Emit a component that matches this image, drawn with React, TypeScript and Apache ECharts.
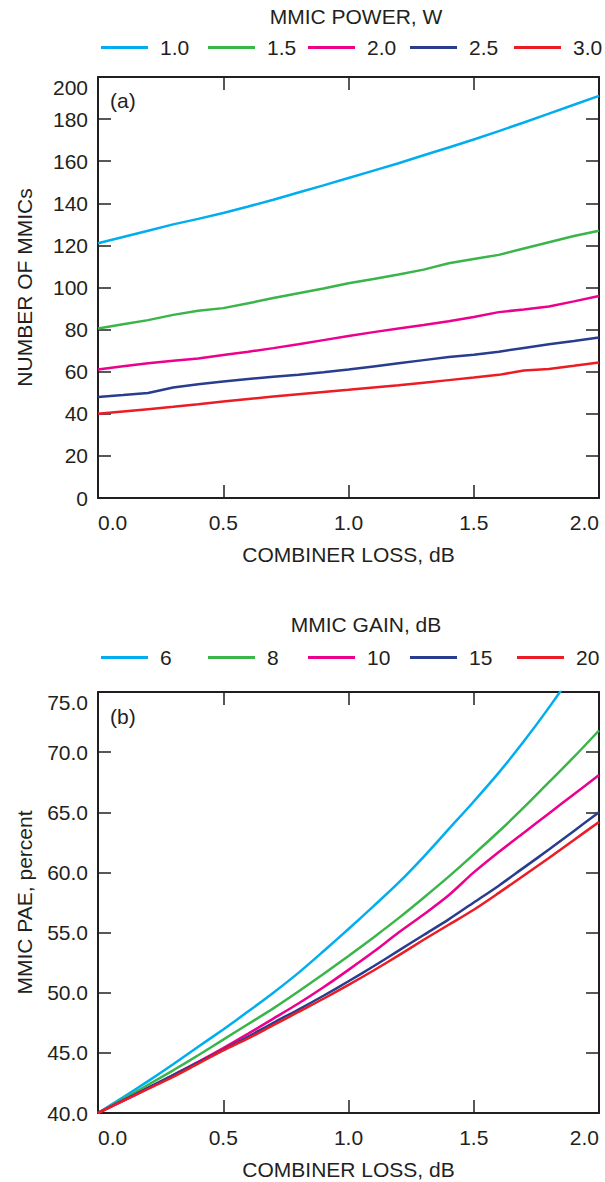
import React, { useEffect, useRef } from "react";
import * as echarts from "echarts";

// ---------- data ----------
const lossX = [0, 0.1, 0.2, 0.3, 0.4, 0.5, 0.6, 0.7, 0.8, 0.9, 1.0, 1.1, 1.2, 1.3, 1.4, 1.5, 1.6, 1.7, 1.8, 1.9, 2.0];

const powerNames = ["1.0", "1.5", "2.0", "2.5", "3.0"];
const count1W = [121, 124, 127, 130, 132.6, 135.4, 138.5, 141.7, 145.1, 148.5, 152, 155.5, 159, 162.8, 166.5, 170.3, 174.3, 178.4, 182.6, 186.8, 191];
const count15W = [80.5, 82.5, 84.5, 87, 89, 90.2, 92.5, 95, 97.3, 99.5, 102, 104, 106.2, 108.5, 111.5, 113.5, 115.5, 118.5, 121.5, 124.5, 127];
const count2W = [61, 62.6, 64, 65.2, 66.3, 67.9, 69.5, 71.2, 73, 75, 77, 78.8, 80.5, 82.2, 84, 86, 88.3, 89.6, 91, 93.4, 96];
const count25W = [48, 48.9, 49.9, 52.5, 54, 55.3, 56.5, 57.6, 58.6, 59.7, 61, 62.5, 64, 65.5, 67, 68, 69.5, 71.3, 73, 74.6, 76.3];
const count3W = [40, 41.1, 42.2, 43.3, 44.5, 45.8, 47, 48.2, 49.3, 50.4, 51.4, 52.5, 53.6, 54.8, 56, 57.2, 58.5, 60.6, 61.3, 62.8, 64.4];

const gainNames = ["6", "8", "10", "15", "20"];
const pae6 = [40, 41.3, 42.65, 44.05, 45.5, 46.95, 48.45, 50.0, 51.65, 53.45, 55.3, 57.2, 59.15, 61.3, 63.6, 65.9, 68.3, 70.9, 73.7, 76.7, 79.9];
const pae8 = [40, 41.15, 42.35, 43.55, 44.8, 46.1, 47.4, 48.7, 50.1, 51.55, 53.05, 54.6, 56.2, 57.9, 59.65, 61.5, 63.4, 65.4, 67.5, 69.6, 71.8];
const pae10 = [40, 41.0, 42.05, 43.15, 44.25, 45.4, 46.6, 47.85, 49.1, 50.45, 51.9, 53.4, 55.0, 56.5, 58.1, 60.0, 61.7, 63.3, 64.9, 66.5, 68.1];
const pae15 = [40, 41.05, 42.1, 43.15, 44.2, 45.25, 46.35, 47.5, 48.6, 49.75, 50.95, 52.2, 53.5, 54.8, 56.1, 57.5, 58.9, 60.4, 61.9, 63.45, 65.0];
const pae20 = [40, 41.0, 42.0, 43.0, 44.1, 45.2, 46.2, 47.3, 48.4, 49.5, 50.65, 51.85, 53.1, 54.4, 55.65, 56.9, 58.3, 59.75, 61.2, 62.7, 64.2];

const countSeries = [count1W, count15W, count2W, count25W, count3W];
const paeSeries = [pae6, pae8, pae10, pae15, pae20];

// ---------- style ----------
const COLORS = ["#00aeef", "#39b54a", "#ec008c", "#283d8e", "#ed1c24"];
const INK = "#231f20";
const FONT = "'Liberation Sans', Arial, Helvetica, sans-serif";
const FS = 21;

const GRID_LEFT = 98;
const GRID_RIGHT = 6;
const GRID_H = 421;
const TOP_A = 77;
const TOP_B = 692;

const legendLineX = [101, 208, 308, 410, 514];
const legendLineXB = [101, 208, 308, 410, 517];

function textStyle() {
  return { color: INK, fontSize: FS, fontFamily: FONT };
}

function xAxes(gridIndex: number) {
  const base = {
    type: "value",
    gridIndex,
    min: 0,
    max: 2,
    interval: 0.5,
    splitLine: { show: false },
    axisLine: { show: true, onZero: false, lineStyle: { color: INK, width: 2 } },
    axisTick: { show: true, inside: true, length: 13, lineStyle: { color: INK, width: 1.5 } },
  };
  return [
    {
      ...base,
      position: "bottom",
      axisLabel: {
        ...textStyle(),
        margin: 14,
        formatter: (v: number) => v.toFixed(1),
        alignMinLabel: "left",
        alignMaxLabel: "right",
      },
      name: "COMBINER LOSS, dB",
      nameLocation: "middle",
      nameGap: 46,
      nameTextStyle: textStyle(),
    },
    { ...base, position: "top", axisLabel: { show: false } },
  ];
}

function yAxes(gridIndex: number, min: number, max: number, interval: number, name: string, digits: number) {
  const base = {
    type: "value",
    gridIndex,
    min,
    max,
    interval,
    splitLine: { show: false },
    axisLine: { show: true, onZero: false, lineStyle: { color: INK, width: 2 } },
    axisTick: { show: true, inside: true, length: 13, lineStyle: { color: INK, width: 1.5 } },
  };
  return [
    {
      ...base,
      position: "left",
      axisLabel: {
        ...textStyle(),
        margin: 10,
        formatter: (v: number) => v.toFixed(digits),
        verticalAlignMaxLabel: "top",
      },
      name,
      nameLocation: "middle",
      nameGap: 63,
      nameRotate: 90,
      nameTextStyle: textStyle(),
    },
    { ...base, position: "right", axisLabel: { show: false } },
  ];
}

function legends(names: string[], xs: number[], top: number) {
  return names.map((n, i) => ({
    data: [n],
    left: xs[i],
    top,
    icon: "rect",
    itemWidth: 47,
    itemHeight: 3,
    padding: 0,
    selectedMode: false,
    textStyle: { ...textStyle(), padding: [0, 0, 0, 7] },
  }));
}

function seriesFor(names: string[], values: number[][], xAxisIndex: number, yAxisIndex: number, smooth: number | boolean) {
  return names.map((n, i) => ({
    name: n,
    type: "line",
    xAxisIndex,
    yAxisIndex,
    data: lossX.map((x, j) => [x, values[i][j]]),
    showSymbol: false,
    symbol: "none",
    smooth,
    clip: true,
    itemStyle: { color: COLORS[i] },
    lineStyle: { color: COLORS[i], width: 2.5 },
  }));
}

export default function App() {
  const ref = useRef<HTMLDivElement>(null);

  useEffect(() => {
    if (!ref.current) return;
    const chart = echarts.init(ref.current, null, { renderer: "svg" });
    const option: any = {
      animation: false,
      backgroundColor: "#ffffff",
      grid: [
        { left: GRID_LEFT, right: GRID_RIGHT, top: TOP_A, height: GRID_H, show: false },
        { left: GRID_LEFT, right: GRID_RIGHT, top: TOP_B, height: GRID_H, show: false },
      ],
      xAxis: [...xAxes(0), ...xAxes(1)],
      yAxis: [
        ...yAxes(0, 0, 200, 20, "NUMBER OF MMICs", 0),
        ...yAxes(1, 40, 75, 5, "MMIC PAE, percent", 1),
      ],
      legend: [...legends(powerNames, legendLineX, 37), ...legends(gainNames, legendLineXB, 647)],
      graphic: [
        { type: "text", x: 356, y: 16, style: { text: "MMIC POWER, W", fill: INK, font: `${FS}px ${FONT}`, align: "center", verticalAlign: "middle" } },
        { type: "text", x: 366, y: 624, style: { text: "MMIC GAIN, dB", fill: INK, font: `${FS}px ${FONT}`, align: "center", verticalAlign: "middle" } },
        { type: "text", x: 110, y: 100, style: { text: "(a)", fill: INK, font: `${FS}px ${FONT}`, align: "left", verticalAlign: "middle" } },
        { type: "text", x: 110, y: 716, style: { text: "(b)", fill: INK, font: `${FS}px ${FONT}`, align: "left", verticalAlign: "middle" } },
      ],
      series: [
        ...seriesFor(powerNames, countSeries, 0, 0, false),
        ...seriesFor(gainNames, paeSeries, 2, 2, 0.3),
      ],
    };
    chart.setOption(option);
    return () => chart.dispose();
  }, []);

  return (
    <div
      ref={ref}
      style={{ position: "absolute", left: 0, top: 0, width: 605, height: 1182, background: "#fff" }}
    />
  );
}
